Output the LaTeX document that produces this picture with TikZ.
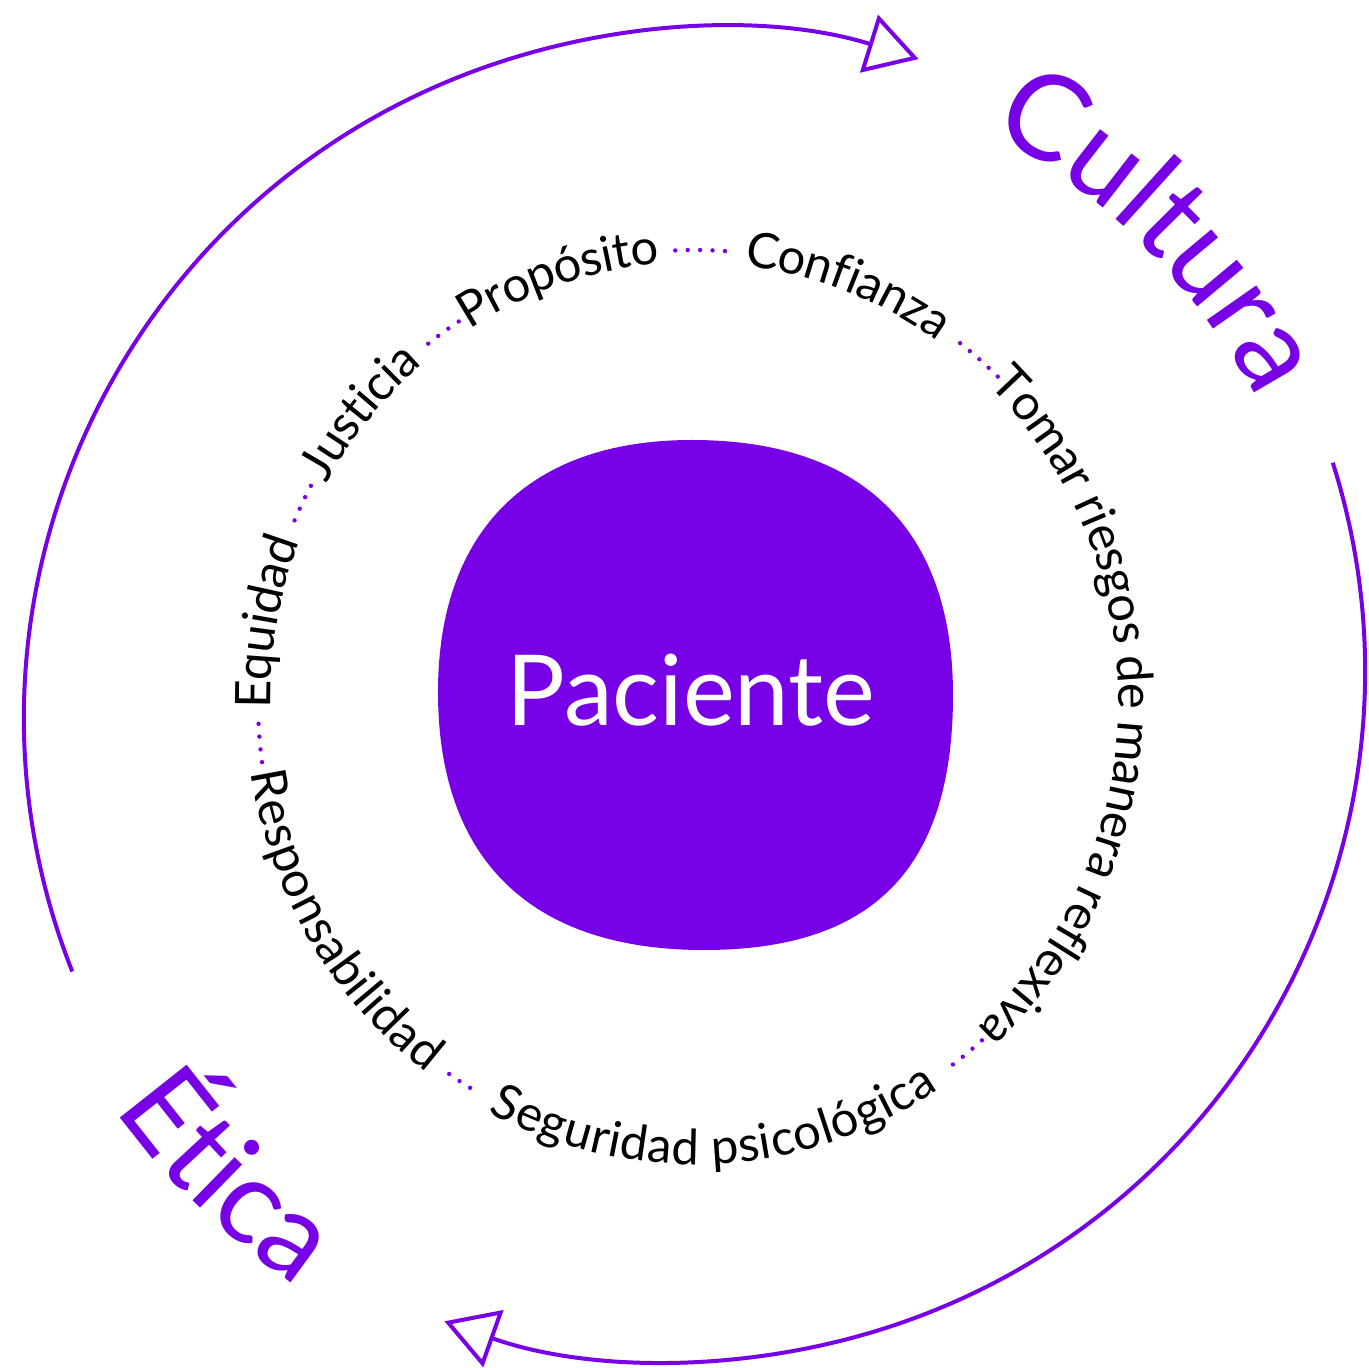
\documentclass[tikz,border=0pt]{standalone}
\usepackage{fontspec}
\setmainfont{Lato}
\usetikzlibrary{arrows.meta,decorations.text}
\definecolor{brandviolet}{RGB}{119,0,230}
\newcommand{\ringfont}{\fontsize{49}{55}\selectfont}
\newcommand{\bigfont}{\fontsize{119}{120}\selectfont}

\begin{document}
\begin{tikzpicture}[x=1pt,y=1pt,
  cyclearrow/.style={draw=brandviolet,line width=4pt,-{Triangle[open,length=52pt,width=60pt]}},
  ringword/.style={decorate,decoration={text along path,text align=center,raise=-12.4pt,text={|\ringfont|#1}}},
  bigword/.style={decorate,decoration={text along path,text align=center,text color=brandviolet,text={|\bigfont|#1}}}]
\useasboundingbox (-694.5,-673.5) rectangle (674.5,694.5);

% outer cycle
\draw[cyclearrow] (19.5,-23.5) ++(201.55:690) arc[start angle=201.55,end angle=72.75,radius=690];
\draw[cyclearrow] (-19.5,23.5) ++(17.57:690) arc[start angle=17.57,end angle=-109.52,radius=690];
\path[bigword=Cultura] (0,0) ++(80:635) arc[start angle=80,end angle=10,radius=635];
\path[bigword=Ética] (0,0) ++(191:713) arc[start angle=191,end angle=260.7,radius=713];

% centre
\fill[brandviolet] (-2.5,254.5) .. controls (-165,254.5) and (-256.5,163.8) .. (-256.5,2.5)
  .. controls (-256.5,-165.2) and (-163.4,-255.5) .. (9.5,-255.5)
  .. controls (178.8,-255.5) and (258.5,-173.9) .. (258.5,-0.5)
  .. controls (258.5,165.3) and (167.2,254.5) .. (-2.5,254.5) -- cycle;
\node[text=white,font=\fontsize{98}{100}\selectfont,anchor=base] (paciente) at (-3.5,-31.5) {Paciente};

% ring of values
\path[ringword=Equidad] (0,-6.5) ++(229.65:436.5 and 451) arc[start angle=229.65,end angle=109.65,x radius=436.5,y radius=451];
\path[ringword=Justicia] (0,-6.5) ++(199.4:436.5 and 451) arc[start angle=199.4,end angle=79.4,x radius=436.5,y radius=451];
\path[ringword=Propósito] (0,-6.5) ++(168:436.5 and 451) arc[start angle=168,end angle=48,x radius=436.5,y radius=451];
\path[ringword=Confianza] (0,-6.5) ++(129.6:436.5 and 451) arc[start angle=129.6,end angle=9.6,x radius=436.5,y radius=451];
\path[ringword=Tomar riesgos de manera reflexiva] (0,-6.5) ++(58.95:436.5 and 451) arc[start angle=58.95,end angle=-61.05,x radius=436.5,y radius=451];
\path[ringword=Seguridad psicológica] (0,-6.5) ++(212.75:436.5 and 451) arc[start angle=212.75,end angle=332.75,x radius=436.5,y radius=451];
\path[ringword=Responsabilidad] (0,-6.5) ++(151.65:436.5 and 451) arc[start angle=151.65,end angle=271.65,x radius=436.5,y radius=451];

% dotted links
\foreach \a/\n in {151.5/4,122.7/4,86/5,46/5,306.3/4,235.8/3,182.9/4}
  \foreach \i in {1,...,\n}
    \fill[brandviolet] (0,-6.5) ++({\a+(\i-1)*1.63}:436.5 and 451) circle[radius=2.2];
\end{tikzpicture}
\end{document}
